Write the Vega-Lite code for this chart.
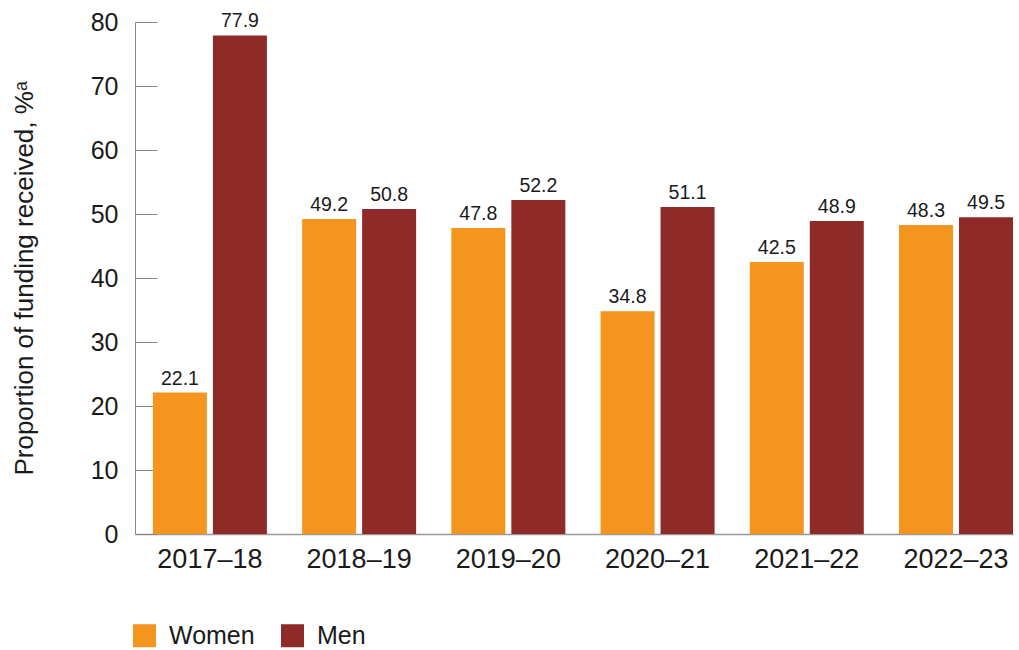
{
  "$schema": "https://vega.github.io/schema/vega-lite/v6.json",
  "autosize": {"type": "none"},
  "width": 878,
  "height": 512,
  "padding": {"left": 135, "top": 22, "right": 6, "bottom": 116},
  "background": "white",
  "config": {
    "view": {"stroke": null},
    "font": "Liberation Sans",
    "axis": {"labelFont": "Liberation Sans", "titleFont": "Liberation Sans", "labelColor": "#1a1a1a", "titleColor": "#1a1a1a", "titleFontWeight": "normal"}
  },
  "data": {
    "values": [
      {"year": "2017–18", "sex": "Women", "value": 22.1},
      {"year": "2017–18", "sex": "Men", "value": 77.9},
      {"year": "2018–19", "sex": "Women", "value": 49.2},
      {"year": "2018–19", "sex": "Men", "value": 50.8},
      {"year": "2019–20", "sex": "Women", "value": 47.8},
      {"year": "2019–20", "sex": "Men", "value": 52.2},
      {"year": "2020–21", "sex": "Women", "value": 34.8},
      {"year": "2020–21", "sex": "Men", "value": 51.1},
      {"year": "2021–22", "sex": "Women", "value": 42.5},
      {"year": "2021–22", "sex": "Men", "value": 48.9},
      {"year": "2022–23", "sex": "Women", "value": 48.3},
      {"year": "2022–23", "sex": "Men", "value": 49.5}
    ]
  },
  "encoding": {
    "x": {
      "field": "year", "type": "nominal", "sort": null,
      "scale": {"paddingInner": 0.236, "paddingOuter": 0.06, "align": 1},
      "axis": {"title": null, "labelAngle": 0, "labelFontSize": 27, "labelPadding": 12, "ticks": false, "domainColor": "#999999", "domainWidth": 1.5}
    },
    "xOffset": {
      "field": "sex", "type": "nominal", "sort": ["Women", "Men"],
      "scale": {"paddingInner": 0.1, "paddingOuter": 0}
    },
    "y": {
      "field": "value", "type": "quantitative",
      "scale": {"domain": [0, 80], "nice": false},
      "axis": {
        "title": "Proportion of funding received, %ᵃ",
        "titleFontSize": 26, "titlePadding": 53,
        "values": [0, 10, 20, 30, 40, 50, 60, 70, 80],
        "labelFontSize": 25, "labelPadding": 39,
        "tickSize": -22, "tickColor": "#888888", "domainColor": "#888888",
        "grid": false
      }
    }
  },
  "layer": [
    {
      "mark": {"type": "bar"},
      "encoding": {
        "color": {
          "field": "sex", "type": "nominal", "sort": ["Women", "Men"],
          "scale": {"domain": ["Women", "Men"], "range": ["#F5951F", "#8E2A28"]},
          "legend": {
            "title": null, "orient": "none", "direction": "horizontal",
            "legendX": -3, "legendY": 601,
            "symbolType": "square", "symbolSize": 529, "symbolStrokeWidth": 0,
            "labelFontSize": 25, "labelOffset": 12, "columnPadding": 25,
            "labelColor": "#1a1a1a"
          }
        }
      }
    },
    {
      "mark": {"type": "text", "baseline": "alphabetic", "dy": -8, "fontSize": 19.5, "color": "#1a1a1a"},
      "encoding": {
        "text": {"field": "value", "type": "quantitative", "format": ".1f"}
      }
    }
  ]
}
